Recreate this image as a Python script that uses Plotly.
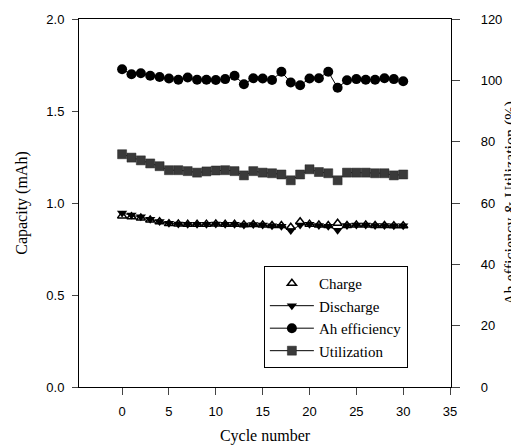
import plotly.graph_objects as go

cycles = list(range(31))
charge = [0.930, 0.925, 0.918, 0.908, 0.898, 0.888, 0.886, 0.884, 0.884, 0.885, 0.886,
          0.884, 0.884, 0.882, 0.883, 0.880, 0.878, 0.878, 0.868, 0.898, 0.885, 0.880,
          0.878, 0.890, 0.878, 0.880, 0.880, 0.878, 0.878, 0.876, 0.876]
discharge = [0.945, 0.935, 0.925, 0.912, 0.900, 0.890, 0.886, 0.884, 0.884, 0.885, 0.886,
             0.884, 0.884, 0.880, 0.883, 0.880, 0.876, 0.874, 0.850, 0.880, 0.885, 0.878,
             0.874, 0.852, 0.878, 0.880, 0.880, 0.878, 0.878, 0.876, 0.876]
ah_eff = [103.6, 102.0, 102.3, 101.5, 101.1, 100.6, 100.2, 100.9, 100.2, 100.2, 100.1,
          100.4, 101.5, 98.7, 100.7, 100.6, 100.1, 102.8, 99.3, 98.4, 100.6, 100.7,
          102.8, 97.6, 100.0, 100.4, 100.2, 100.2, 100.7, 100.4, 99.7]
utilization = [75.9, 74.8, 73.9, 72.9, 72.0, 70.7, 70.7, 70.4, 69.9, 70.3, 70.6,
               70.7, 70.4, 69.0, 70.4, 69.9, 69.7, 69.3, 67.4, 69.3, 71.0, 70.1,
               69.7, 67.4, 69.9, 69.9, 69.9, 69.7, 69.7, 69.0, 69.3]

x_ticks = [0, 5, 10, 15, 20, 25, 30, 35]
left_ticks = [0.0, 0.5, 1.0, 1.5, 2.0]
left_ticklabels = ["0.0", "0.5", "1.0", "1.5", "2.0"]
right_ticks = [0, 20, 40, 60, 80, 100, 120]
right_ticklabels = ["\u00a0" * 5 + str(v) for v in right_ticks]

serif = "Liberation Serif, Times New Roman, serif"
sans = "Liberation Sans, Arial, sans-serif"

fig = go.Figure()
fig.add_trace(go.Scatter(
    x=cycles, y=charge, name="Charge", mode="markers",
    marker=dict(symbol="triangle-up-open", size=8, color="black", line=dict(width=1.5, color="black")),
))
fig.add_trace(go.Scatter(
    x=cycles, y=discharge, name="Discharge", mode="lines+markers",
    line=dict(color="black", width=1),
    marker=dict(symbol="triangle-down", size=9, color="black"),
))
fig.add_trace(go.Scatter(
    x=cycles, y=ah_eff, name="Ah efficiency", mode="lines+markers", yaxis="y2",
    line=dict(color="black", width=1),
    marker=dict(symbol="circle", size=10, color="black"),
))
fig.add_trace(go.Scatter(
    x=cycles, y=utilization, name="Utilization", mode="lines+markers", yaxis="y2",
    line=dict(color="black", width=1),
    marker=dict(symbol="square", size=9, color="#3a3a3a", line=dict(width=0.5, color="#222")),
))

fig.update_layout(
    width=519, height=446,
    margin=dict(l=71, r=76, t=11, b=67),
    paper_bgcolor="white", plot_bgcolor="white",
    showlegend=True,
    legend=dict(
        x=0.497, y=0.329, xanchor="left", yanchor="top",
        bordercolor="black", borderwidth=1, bgcolor="white",
        font=dict(family=serif, size=15, color="black"),
        tracegroupgap=0, itemwidth=44,
    ),
    xaxis=dict(
        range=[-4.6, 35.1], tickvals=x_ticks, ticks="outside", ticklen=7,
        showline=True, linecolor="black", linewidth=1, mirror=True,
        showgrid=False, zeroline=False, automargin=False,
        ticklabelstandoff=5,
        tickfont=dict(family=sans, size=13, color="black"),
        title=dict(text="Cycle number", font=dict(family=serif, size=16, color="black"), standoff=12),
    ),
    yaxis=dict(
        range=[0, 2.0], tickvals=left_ticks, ticktext=left_ticklabels,
        ticks="outside", ticklen=6,
        showline=True, linecolor="black", linewidth=1, mirror=True,
        showgrid=False, zeroline=False, automargin=False,
        ticklabelstandoff=5,
        tickfont=dict(family=sans, size=13, color="black"),
        title=dict(text="Capacity (mAh)", font=dict(family=serif, size=16, color="black"), standoff=14),
    ),
    yaxis2=dict(
        range=[0, 120], tickvals=right_ticks, ticktext=right_ticklabels,
        overlaying="y", side="right",
        ticks="outside", ticklen=8,
        showline=True, linecolor="black", linewidth=1,
        showgrid=False, zeroline=False, automargin=False,
        tickfont=dict(family=sans, size=13, color="black"),
        title=dict(text="Ah efficiency & Utilization (%)", font=dict(family=serif, size=16, color="black"), standoff=3),
    ),
)

fig.write_html("out.html")
